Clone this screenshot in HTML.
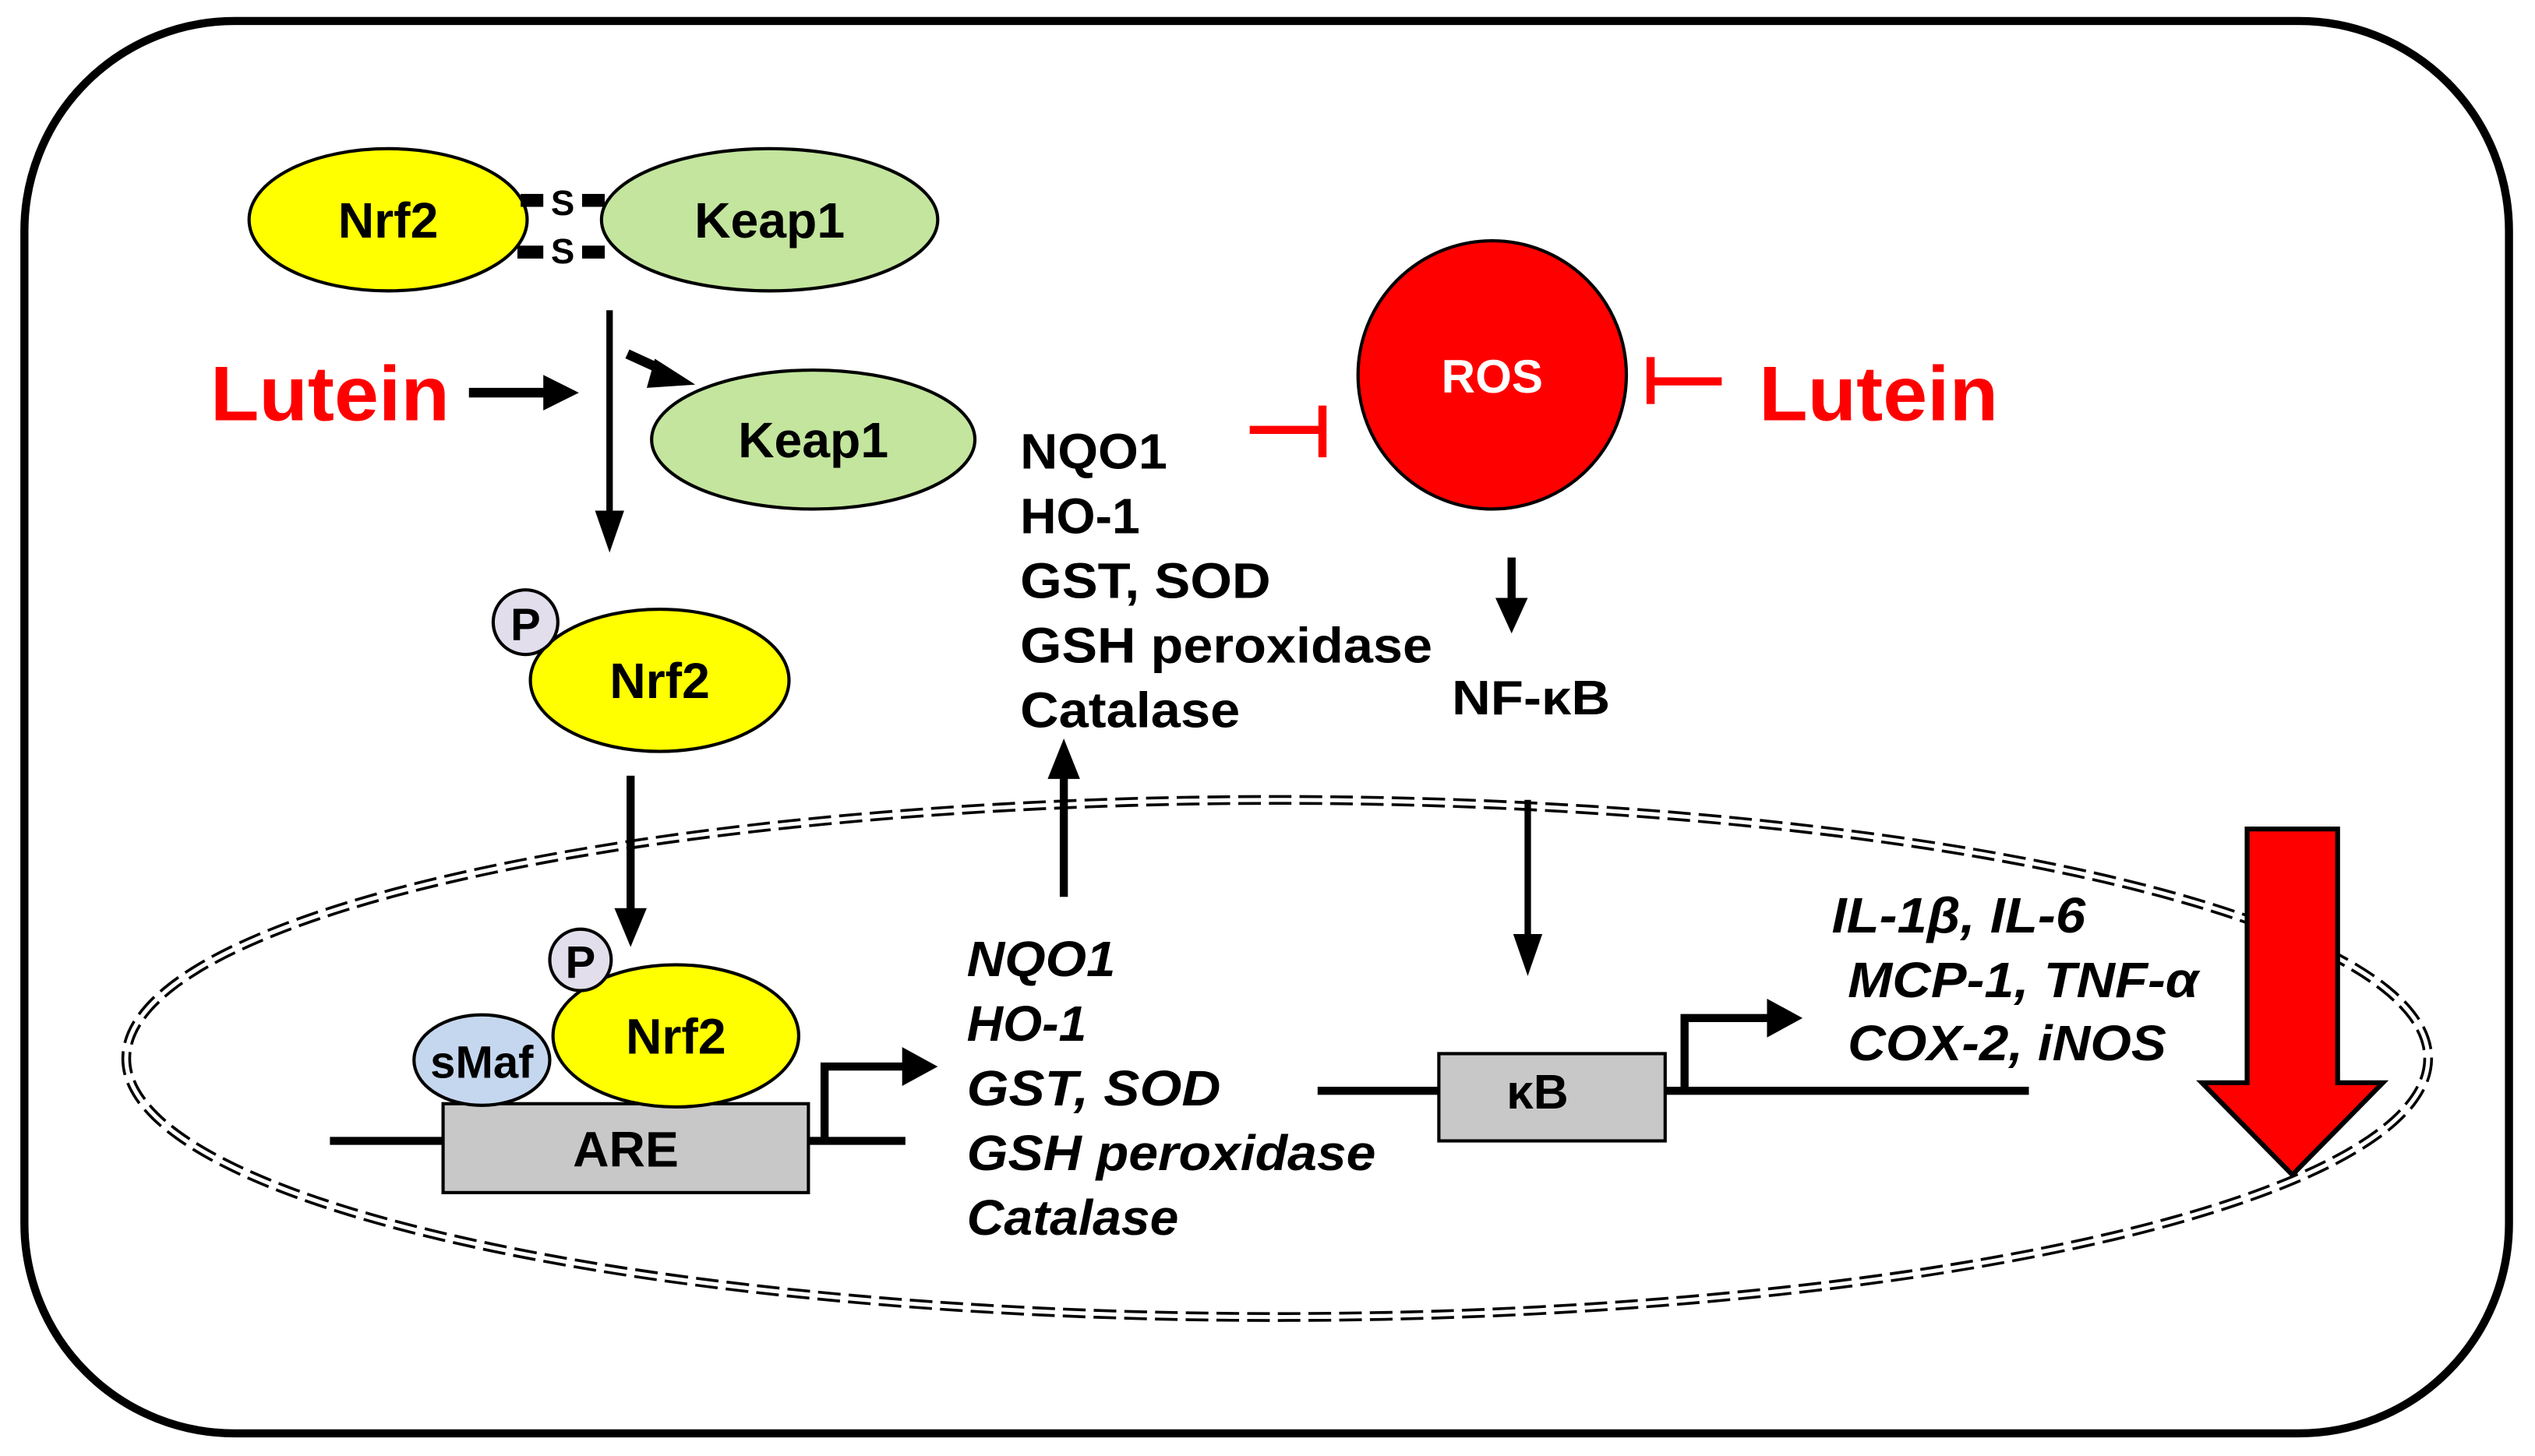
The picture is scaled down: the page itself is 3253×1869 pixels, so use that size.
<!DOCTYPE html>
<html><head><meta charset="utf-8"><style>html,body{margin:0;padding:0;background:#fff}svg{display:block}text{font-family:"Liberation Sans",Arial,sans-serif;font-weight:bold}</style></head>
<body>
<svg width="3253" height="1869" viewBox="0 0 1568 901" xmlns="http://www.w3.org/2000/svg">
<rect x="15" y="13" width="1537" height="874" rx="130" fill="#fff" stroke="#000" stroke-width="5"/>
<ellipse cx="790" cy="655" rx="712" ry="160" fill="none" stroke="#000" stroke-width="6" stroke-dasharray="14,5"/>
<ellipse cx="790" cy="655" rx="712" ry="160" fill="none" stroke="#fff" stroke-width="2.5"/>
<ellipse cx="240" cy="136" rx="86" ry="44" fill="#ffff00" stroke="#000" stroke-width="2"/>
<ellipse cx="476" cy="136" rx="104" ry="44" fill="#c3e59d" stroke="#000" stroke-width="2"/>
<text x="240" y="147" font-size="31" text-anchor="middle">Nrf2</text>
<text x="476" y="147" font-size="31" text-anchor="middle">Keap1</text>
<rect x="322" y="120" width="14" height="8"/><rect x="360" y="120" width="14" height="8"/>
<rect x="320" y="152" width="16" height="8"/><rect x="360" y="152" width="14" height="8"/>
<text x="348" y="133" font-size="22" text-anchor="middle">S</text>
<text x="348" y="163" font-size="22" text-anchor="middle">S</text>
<line x1="377" y1="192" x2="377" y2="318" stroke="#000" stroke-width="4"/>
<path d="M368,316 L386,316 L377,342 Z"/>
<line x1="388" y1="219" x2="412" y2="230" stroke="#000" stroke-width="6"/>
<path d="M405,222 L430,238 L400,240 Z"/>
<text x="130" y="260" font-size="48" fill="#ff0000" textLength="148" lengthAdjust="spacingAndGlyphs">Lutein</text>
<line x1="290" y1="243" x2="338" y2="243" stroke="#000" stroke-width="6"/>
<path d="M336,232 L358,243 L336,254 Z"/>
<ellipse cx="503" cy="272" rx="100" ry="43" fill="#c3e59d" stroke="#000" stroke-width="2"/>
<text x="503" y="283" font-size="31" text-anchor="middle">Keap1</text>
<ellipse cx="408" cy="421" rx="80" ry="44" fill="#ffff00" stroke="#000" stroke-width="2"/>
<circle cx="325" cy="385" r="20" fill="#e2deec" stroke="#000" stroke-width="2"/>
<text x="325" y="396" font-size="28" text-anchor="middle">P</text>
<text x="408" y="432" font-size="31" text-anchor="middle">Nrf2</text>
<line x1="390" y1="480" x2="390" y2="564" stroke="#000" stroke-width="5"/>
<path d="M380,562 L400,562 L390,586 Z"/>
<line x1="204" y1="706" x2="560" y2="706" stroke="#000" stroke-width="5"/>
<rect x="274" y="683" width="226" height="55" fill="#c8c8c8" stroke="#000" stroke-width="2"/>
<text x="387" y="722" font-size="31" text-anchor="middle">ARE</text>
<ellipse cx="298" cy="656" rx="42" ry="28" fill="#c5d7ee" stroke="#000" stroke-width="2"/>
<text x="298" y="667" font-size="28" text-anchor="middle">sMaf</text>
<ellipse cx="418" cy="641" rx="76" ry="44" fill="#ffff00" stroke="#000" stroke-width="2"/>
<circle cx="359" cy="594" r="19" fill="#e2deec" stroke="#000" stroke-width="2"/>
<text x="359" y="605" font-size="28" text-anchor="middle">P</text>
<text x="418" y="652" font-size="31" text-anchor="middle">Nrf2</text>
<polyline points="510,706 510,660 560,660" fill="none" stroke="#000" stroke-width="5"/>
<path d="M558,648 L580,660 L558,672 Z"/>
<g font-size="31" font-style="italic">
<text x="598" y="604" textLength="92" lengthAdjust="spacingAndGlyphs">NQO1</text><text x="598" y="644">HO-1</text><text x="598" y="684" textLength="157" lengthAdjust="spacingAndGlyphs">GST, SOD</text><text x="598" y="724" textLength="253" lengthAdjust="spacingAndGlyphs">GSH peroxidase</text><text x="598" y="764" textLength="131" lengthAdjust="spacingAndGlyphs">Catalase</text>
</g>
<line x1="658" y1="555" x2="658" y2="480" stroke="#000" stroke-width="5"/>
<path d="M648,482 L668,482 L658,457 Z"/>
<g font-size="31">
<text x="631" y="290" textLength="91" lengthAdjust="spacingAndGlyphs">NQO1</text><text x="631" y="330">HO-1</text><text x="631" y="370" textLength="155" lengthAdjust="spacingAndGlyphs">GST, SOD</text><text x="631" y="410" textLength="255" lengthAdjust="spacingAndGlyphs">GSH peroxidase</text><text x="631" y="450" textLength="136" lengthAdjust="spacingAndGlyphs">Catalase</text>
</g>
<line x1="773" y1="266" x2="818" y2="266" stroke="#ff0000" stroke-width="5"/>
<line x1="818" y1="251" x2="818" y2="283" stroke="#ff0000" stroke-width="5"/>
<circle cx="923" cy="232" r="83" fill="#ff0000" stroke="#000" stroke-width="2"/>
<text x="923" y="243" font-size="29" fill="#fff" text-anchor="middle">ROS</text>
<line x1="1021" y1="221" x2="1021" y2="250" stroke="#ff0000" stroke-width="5"/>
<line x1="1021" y1="236" x2="1065" y2="236" stroke="#ff0000" stroke-width="5"/>
<text x="1088" y="260" font-size="48" fill="#ff0000" textLength="148" lengthAdjust="spacingAndGlyphs">Lutein</text>
<line x1="935" y1="345" x2="935" y2="372" stroke="#000" stroke-width="5"/>
<path d="M925,370 L945,370 L935,392 Z"/>
<text x="898" y="442" font-size="30" textLength="98" lengthAdjust="spacingAndGlyphs">NF-κB</text>
<line x1="945" y1="495" x2="945" y2="580" stroke="#000" stroke-width="4"/>
<path d="M936,578 L954,578 L945,604 Z"/>
<line x1="815" y1="675" x2="1255" y2="675" stroke="#000" stroke-width="5"/>
<rect x="890" y="652" width="140" height="54" fill="#c8c8c8" stroke="#000" stroke-width="2"/>
<text x="951" y="686" font-size="30" text-anchor="middle">κB</text>
<polyline points="1042,675 1042,630 1095,630" fill="none" stroke="#000" stroke-width="5"/>
<path d="M1093,618 L1115,630 L1093,642 Z"/>
<g font-size="31" font-style="italic">
<text x="1133" y="577" textLength="157" lengthAdjust="spacingAndGlyphs">IL-1β, IL-6</text><text x="1143" y="617" textLength="217" lengthAdjust="spacingAndGlyphs">MCP-1, TNF-α</text><text x="1143" y="656" textLength="197" lengthAdjust="spacingAndGlyphs">COX-2, iNOS</text>
</g>
<path d="M1390,513 L1446,513 L1446,670 L1474,670 L1418,727 L1362,670 L1390,670 Z" fill="#ff0000" stroke="#000" stroke-width="3" stroke-linejoin="miter"/>
</svg>
</body></html>
